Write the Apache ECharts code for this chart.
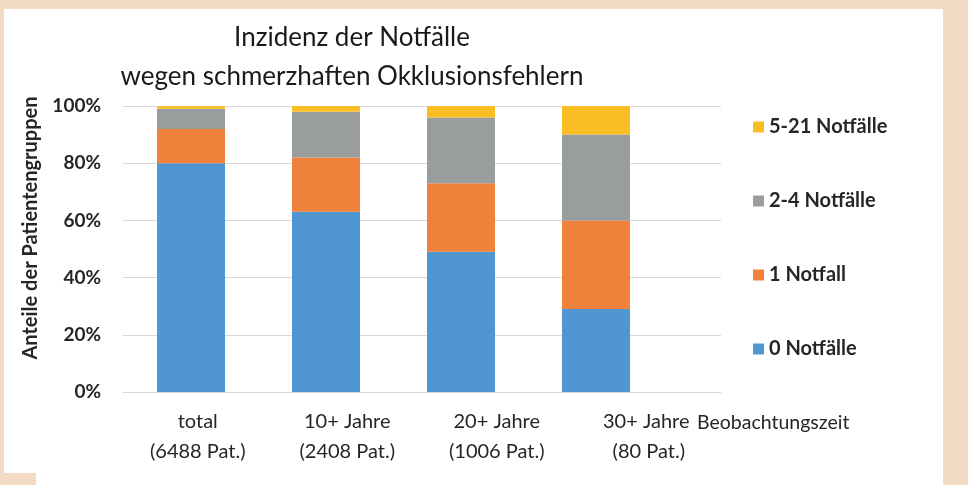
<!DOCTYPE html>
<html>
<head>
<meta charset="utf-8">
<script src="https://cdn.jsdelivr.net/npm/echarts@6/dist/echarts.min.js"></script>
<style>
  html, body { margin: 0; padding: 0; }
  #chart { width: 968px; height: 485px; }
</style>
</head>
<body>
<div id="chart"></div>
<script>
// Kategorien (Beobachtungszeit)
var categories = ['total\n(6488 Pat.)', '10+ Jahre\n(2408 Pat.)', '20+ Jahre\n(1006 Pat.)', '30+ Jahre\n (80 Pat.)'];
// Anteile in %
var zeroNotfaelle = [80, 63, 49, 29];
var einNotfall = [12, 19, 24, 31];
var zweiBisVier = [7, 16, 23, 30];
var fuenfBis21 = [1, 2, 4, 10];
var yTicks = [0, 20, 40, 60, 80, 100];

var colors = {
  zero: '#5097d2',
  one: '#f0823b',
  two: '#9a9d9e',
  five: '#fbbd24'
};
var txt = '#262626';
var font = 'Lato';

var myChart = echarts.init(document.getElementById('chart'));

function barSeries(name, data, color) {
  return {
    name: name,
    type: 'bar',
    stack: 'gesamt',
    xAxisIndex: 1,
    yAxisIndex: 1,
    barWidth: 68,
    data: data,
    itemStyle: { color: color }
  };
}

var option = {
  backgroundColor: '#f2dac4',
  animation: false,
  textStyle: { fontFamily: font },
  graphic: [
    // weisse Flaeche
    { type: 'rect', z: -100, silent: true, shape: { x: 4, y: 9, width: 939, height: 476 }, style: { fill: '#ffffff' } },
    { type: 'rect', z: -99, silent: true, shape: { x: 0, y: 473, width: 36, height: 12 }, style: { fill: '#f2dac4' } },
    // Y-Achsentitel
    {
      type: 'text', x: 31, y: 228, rotation: Math.PI / 2,
      style: {
        text: 'Anteile der Patientengruppen', fill: txt,
        font: 'bold 20px Lato', align: 'center', verticalAlign: 'middle'
      }
    },
    // X-Achsentitel
    {
      type: 'text', x: 697, y: 423,
      style: {
        text: 'Beobachtungszeit', fill: txt,
        font: '19.5px Lato', align: 'left', verticalAlign: 'middle'
      }
    }
  ],
  title: {
    text: 'Inzidenz der Notfälle\nwegen schmerzhaften Okklusionsfehlern',
    left: 347,
    top: 13,
    textAlign: 'center',
    textStyle: {
      fontFamily: font,
      fontSize: 26,
      fontWeight: 'normal',
      lineHeight: 39,
      color: '#1a1a1a'
    }
  },
  legend: {
    orient: 'vertical',
    left: 748,
    top: 112,
    itemWidth: 11,
    itemHeight: 11,
    itemGap: 54,
    icon: 'rect',
    data: ['5-21 Notfälle', '2-4 Notfälle', '1 Notfall', '0 Notfälle'],
    textStyle: { fontFamily: font, fontSize: 20, fontWeight: 'bold', color: txt, lineHeight: 20 }
  },
  grid: [
    { left: 123, top: 106, width: 598, height: 286 },
    { left: 123.5, top: 106, width: 540, height: 286 }
  ],
  xAxis: [
    {
      type: 'category',
      gridIndex: 0,
      data: categories,
      axisLine: { lineStyle: { color: '#d9d9d9', width: 1 } },
      axisTick: { show: false },
      axisLabel: {
        color: txt, fontFamily: font, fontSize: 20,
        lineHeight: 30, margin: 15, interval: 0
      }
    },
    {
      type: 'category',
      gridIndex: 1,
      data: categories,
      show: false
    }
  ],
  yAxis: [
    {
      type: 'value',
      gridIndex: 0,
      min: yTicks[0],
      max: yTicks[yTicks.length - 1],
      interval: 20,
      axisLine: { show: false },
      axisTick: { show: false },
      splitLine: { lineStyle: { color: '#d9d9d9', width: 1 } },
      axisLabel: {
        formatter: '{value}%', color: txt, fontFamily: font,
        fontSize: 19, fontWeight: 'bold', margin: 22
      }
    },
    {
      type: 'value',
      gridIndex: 1,
      min: 0,
      max: 100,
      show: false
    }
  ],
  series: [
    barSeries('0 Notfälle', zeroNotfaelle, colors.zero),
    barSeries('1 Notfall', einNotfall, colors.one),
    barSeries('2-4 Notfälle', zweiBisVier, colors.two),
    barSeries('5-21 Notfälle', fuenfBis21, colors.five)
  ]
};

myChart.setOption(option);
</script>
</body>
</html>
